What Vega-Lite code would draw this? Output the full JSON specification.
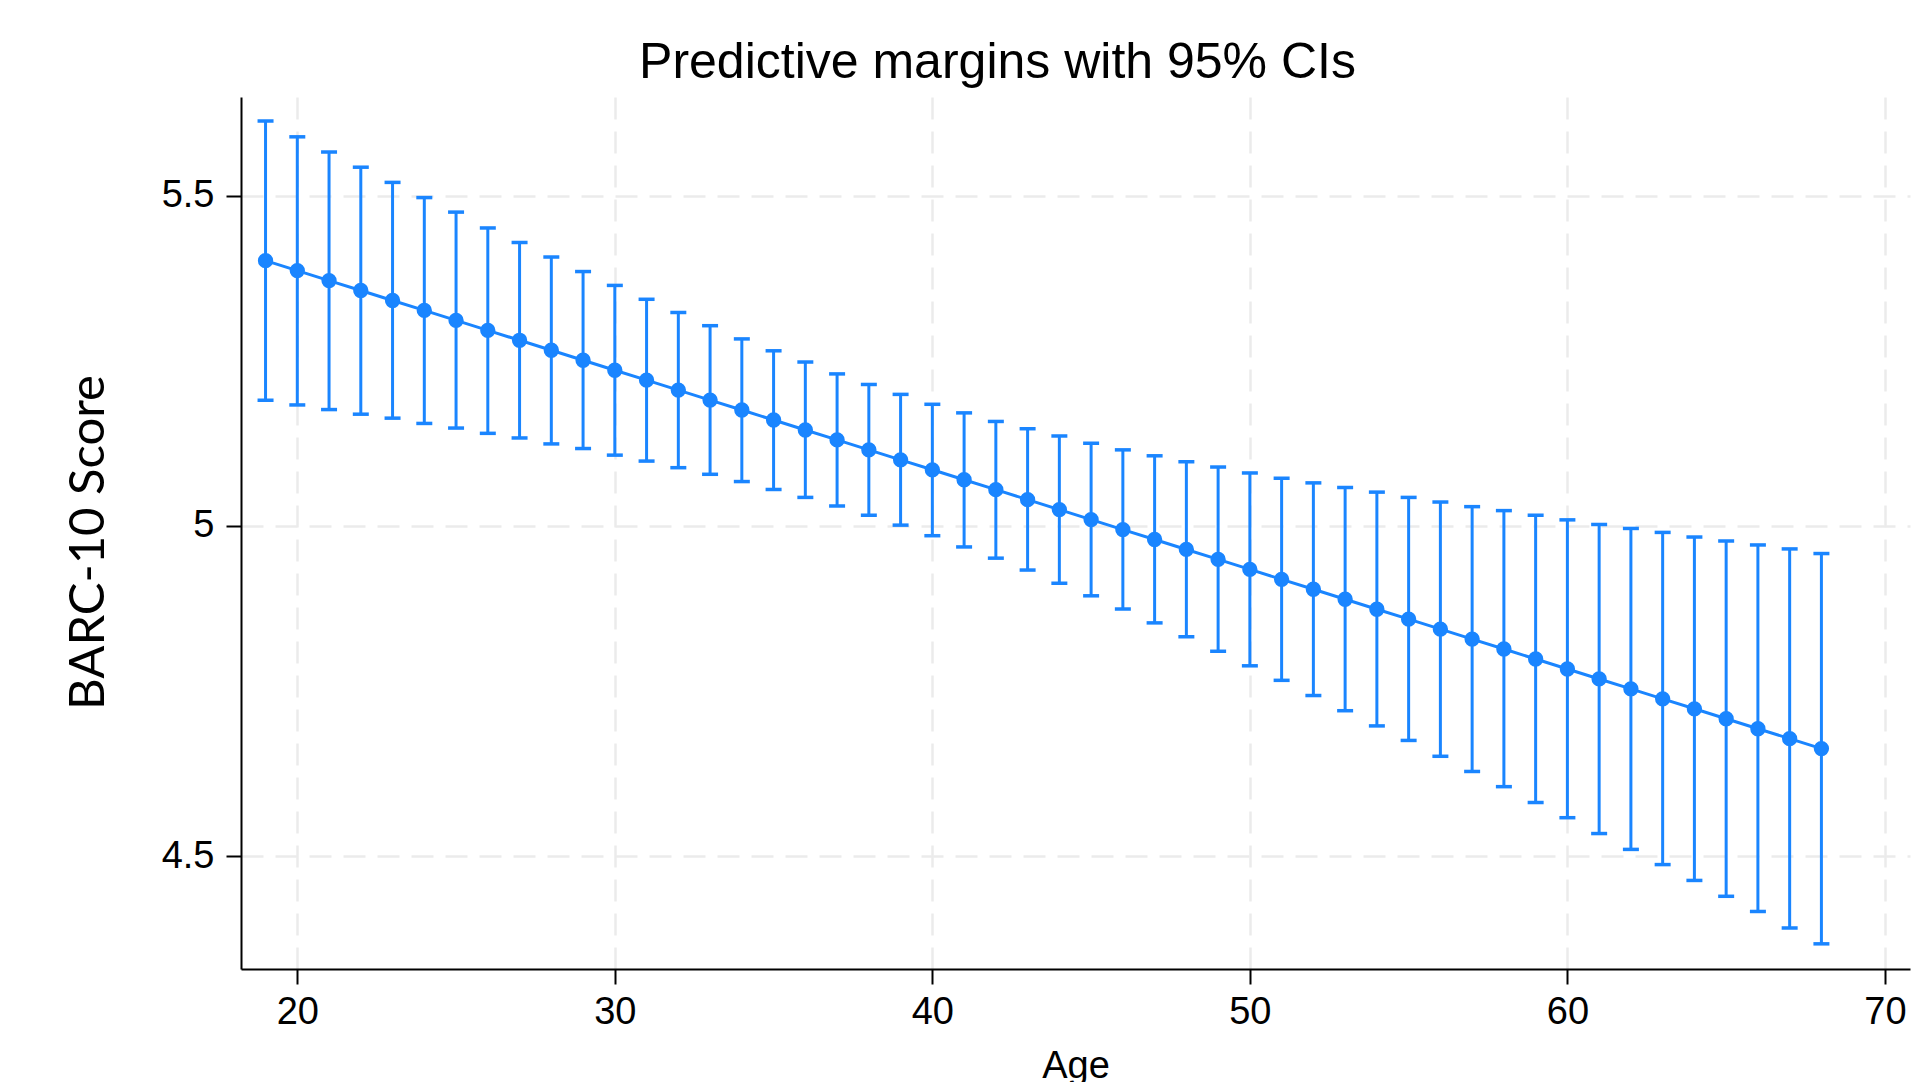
{
  "$schema": "https://vega.github.io/schema/vega-lite/v6.json",
  "width": 1669,
  "height": 872,
  "autosize": "none",
  "padding": {"left": 241, "top": 97, "right": 7, "bottom": 113},
  "background": "white",
  "config": {
    "view": {"stroke": null},
    "axis": {
      "labelFont": "Liberation Sans",
      "labelFontSize": 38,
      "labelColor": "black",
      "titleFontWeight": "normal",
      "titleColor": "black",
      "domainColor": "black",
      "domainWidth": 2,
      "tickColor": "black",
      "tickWidth": 2,
      "tickSize": 15,
      "gridColor": "#EBEBEB",
      "gridWidth": 2.5,
      "gridDash": [22, 12]
    }
  },
  "title": {
    "text": "Predictive margins with 95% CIs",
    "font": "Liberation Sans",
    "fontSize": 50,
    "fontWeight": "normal",
    "color": "black",
    "anchor": "middle",
    "frame": "group",
    "dx": -78,
    "dy": 44,
    "baseline": "alphabetic",
    "offset": 13
  },
  "data": {
    "values": [
      {"age": 19, "margin": 5.4015, "lower": 5.190, "upper": 5.613},
      {"age": 20, "margin": 5.3864, "lower": 5.183, "upper": 5.589},
      {"age": 21, "margin": 5.3713, "lower": 5.176, "upper": 5.566},
      {"age": 22, "margin": 5.3563, "lower": 5.169, "upper": 5.543},
      {"age": 23, "margin": 5.3412, "lower": 5.163, "upper": 5.520},
      {"age": 24, "margin": 5.3261, "lower": 5.155, "upper": 5.497},
      {"age": 25, "margin": 5.3110, "lower": 5.148, "upper": 5.475},
      {"age": 26, "margin": 5.2959, "lower": 5.140, "upper": 5.451},
      {"age": 27, "margin": 5.2809, "lower": 5.133, "upper": 5.429},
      {"age": 28, "margin": 5.2658, "lower": 5.124, "upper": 5.407},
      {"age": 29, "margin": 5.2507, "lower": 5.117, "upper": 5.385},
      {"age": 30, "margin": 5.2356, "lower": 5.107, "upper": 5.364},
      {"age": 31, "margin": 5.2205, "lower": 5.098, "upper": 5.343},
      {"age": 32, "margin": 5.2055, "lower": 5.088, "upper": 5.323},
      {"age": 33, "margin": 5.1904, "lower": 5.078, "upper": 5.303},
      {"age": 34, "margin": 5.1753, "lower": 5.067, "upper": 5.283},
      {"age": 35, "margin": 5.1602, "lower": 5.055, "upper": 5.265},
      {"age": 36, "margin": 5.1451, "lower": 5.043, "upper": 5.248},
      {"age": 37, "margin": 5.1301, "lower": 5.030, "upper": 5.230},
      {"age": 38, "margin": 5.1150, "lower": 5.016, "upper": 5.214},
      {"age": 39, "margin": 5.0999, "lower": 5.001, "upper": 5.199},
      {"age": 40, "margin": 5.0848, "lower": 4.985, "upper": 5.184},
      {"age": 41, "margin": 5.0697, "lower": 4.968, "upper": 5.171},
      {"age": 42, "margin": 5.0547, "lower": 4.951, "upper": 5.158},
      {"age": 43, "margin": 5.0396, "lower": 4.933, "upper": 5.147},
      {"age": 44, "margin": 5.0245, "lower": 4.913, "upper": 5.136},
      {"age": 45, "margin": 5.0094, "lower": 4.894, "upper": 5.125},
      {"age": 46, "margin": 4.9943, "lower": 4.874, "upper": 5.115},
      {"age": 47, "margin": 4.9793, "lower": 4.853, "upper": 5.106},
      {"age": 48, "margin": 4.9642, "lower": 4.832, "upper": 5.097},
      {"age": 49, "margin": 4.9491, "lower": 4.810, "upper": 5.089},
      {"age": 50, "margin": 4.9340, "lower": 4.788, "upper": 5.080},
      {"age": 51, "margin": 4.9189, "lower": 4.766, "upper": 5.072},
      {"age": 52, "margin": 4.9039, "lower": 4.743, "upper": 5.065},
      {"age": 53, "margin": 4.8888, "lower": 4.720, "upper": 5.058},
      {"age": 54, "margin": 4.8737, "lower": 4.697, "upper": 5.051},
      {"age": 55, "margin": 4.8586, "lower": 4.675, "upper": 5.043},
      {"age": 56, "margin": 4.8435, "lower": 4.651, "upper": 5.036},
      {"age": 57, "margin": 4.8285, "lower": 4.628, "upper": 5.029},
      {"age": 58, "margin": 4.8134, "lower": 4.605, "upper": 5.023},
      {"age": 59, "margin": 4.7983, "lower": 4.581, "upper": 5.016},
      {"age": 60, "margin": 4.7832, "lower": 4.558, "upper": 5.009},
      {"age": 61, "margin": 4.7681, "lower": 4.534, "upper": 5.002},
      {"age": 62, "margin": 4.7531, "lower": 4.510, "upper": 4.996},
      {"age": 63, "margin": 4.7380, "lower": 4.487, "upper": 4.990},
      {"age": 64, "margin": 4.7229, "lower": 4.463, "upper": 4.983},
      {"age": 65, "margin": 4.7078, "lower": 4.439, "upper": 4.977},
      {"age": 66, "margin": 4.6927, "lower": 4.416, "upper": 4.971},
      {"age": 67, "margin": 4.6777, "lower": 4.391, "upper": 4.965},
      {"age": 68, "margin": 4.6626, "lower": 4.367, "upper": 4.958}
    ]
  },
  "encoding": {
    "x": {
      "field": "age",
      "type": "quantitative",
      "scale": {"domain": [18.227, 70.79], "nice": false, "zero": false},
      "axis": {
        "values": [20, 30, 40, 50, 60, 70],
        "title": "Age",
        "titleFont": "Liberation Sans",
        "titleFontSize": 38,
        "titleY": 108,
        "titleBaseline": "alphabetic",
        "labelPadding": 9,
        "labelFlush": false
      }
    }
  },
  "layer": [
    {
      "mark": {"type": "rule", "color": "#1A85FF", "strokeWidth": 3},
      "encoding": {
        "y": {
          "field": "lower",
          "type": "quantitative",
          "scale": {"domain": [4.3289, 5.6493], "nice": false, "zero": false},
          "axis": {
            "values": [4.5, 5, 5.5],
            "format": "~g",
            "title": "BARC-10 Score",
            "titleFont": "Lato",
            "titleFontSize": 49,
            "titleAngle": 270,
            "titleAlign": "center",
            "titleBaseline": "alphabetic",
            "titleX": -138,
            "titleY": 445,
            "labelPadding": 12,
            "labelFlush": false
          }
        },
        "y2": {"field": "upper"}
      }
    },
    {
      "mark": {"type": "tick", "orient": "horizontal", "color": "#1A85FF", "size": 16, "thickness": 3.5, "opacity": 1},
      "encoding": {"y": {"field": "upper", "type": "quantitative"}}
    },
    {
      "mark": {"type": "tick", "orient": "horizontal", "color": "#1A85FF", "size": 16, "thickness": 3.5, "opacity": 1},
      "encoding": {"y": {"field": "lower", "type": "quantitative"}}
    },
    {
      "mark": {"type": "line", "color": "#1A85FF", "strokeWidth": 3},
      "encoding": {"y": {"field": "margin", "type": "quantitative"}}
    },
    {
      "mark": {"type": "point", "filled": true, "color": "#1A85FF", "size": 235, "opacity": 1},
      "encoding": {"y": {"field": "margin", "type": "quantitative"}}
    }
  ]
}
